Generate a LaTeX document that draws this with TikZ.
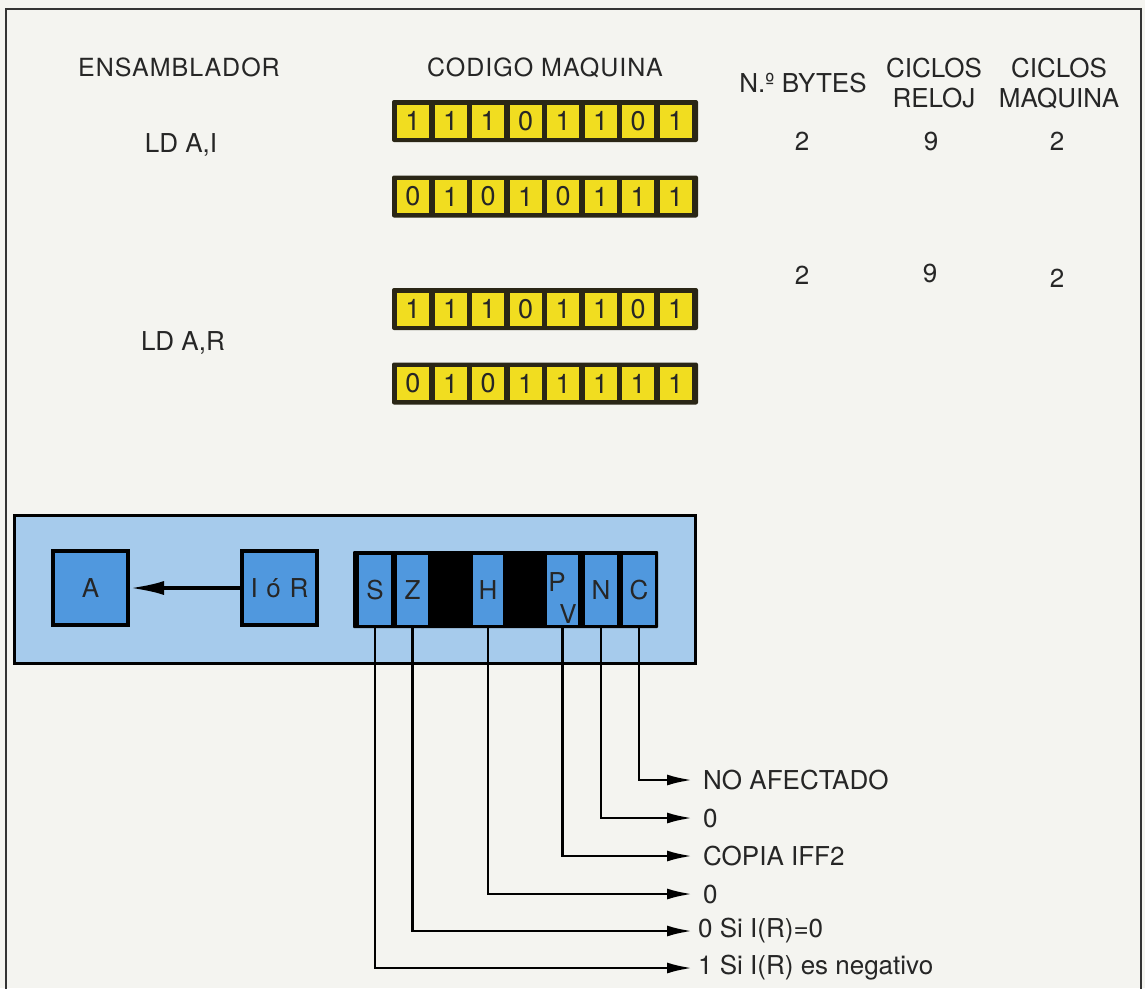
\documentclass[tikz,border=0pt]{standalone}
\usepackage{fontspec}
\setmainfont{TeX Gyre Heros}
\usetikzlibrary{arrows.meta,positioning}
\definecolor{paper}{RGB}{244,244,240}
\definecolor{bityel}{RGB}{241,221,32}
\definecolor{bitedge}{RGB}{42,38,22}
\definecolor{panelblue}{RGB}{166,203,236}
\definecolor{regblue}{RGB}{80,152,222}

\begin{document}
\begin{tikzpicture}[x=1pt, y=-1pt,
  every node/.style={font=\fontsize{26}{30}\selectfont, text=black!85},
  head/.style={font=\fontsize{25}{30}\selectfont\addfontfeature{LetterSpace=4}},
  bitcell/.style={fill=bityel, minimum width=32pt, minimum height=33pt, inner sep=0pt,
    font=\fontsize{27}{30}\selectfont},
  bytebox/.style={fill=bitedge, rounded corners=2pt, minimum width=306pt, minimum height=42pt, inner sep=0pt},
  reg/.style={draw=black, line width=4pt, fill=regblue, minimum width=75pt, minimum height=74pt, inner sep=0pt},
  flag/.style={fill=regblue, minimum height=70pt, inner sep=0pt},
  flagline/.style={line width=2.6pt, -{Latex[length=25pt,width=11pt]}},
  result/.style={anchor=west, inner sep=0pt}]
\useasboundingbox (0,0) rectangle (1145,988);
\fill[paper] (0,0) rectangle (1145,988);
\clip (0,0) rectangle (1145,988);
\draw[line width=2.5pt, black!80] (6,1000) -- (6,9) -- (1141,9) -- (1141,1000);
% ---- headings
\node[head] (ensam) at (179,67) {ENSAMBLADOR};
\node[head] (codigo) at (545,68) {CODIGO MAQUINA};
\node (bytes) at (803,83) {N.º BYTES};
\node[align=center] (reloj) at (934,83) {CICLOS\\RELOJ};
\node[align=center] (maq) at (1059,83) {CICLOS\\MAQUINA};
% ---- instructions
\node (ldai) at (181,145) {LD A,I};
\node (ldar) at (183,343) {LD A,R};
\node (b1) at (802,141) {2};
\node (c1) at (931,141) {9};
\node (m1) at (1057,141) {2};
\node (b2) at (802,275) {2};
\node (c2) at (930,273) {9};
\node (m2) at (1057,278) {2};
% ---- machine code bytes
\foreach \row/\yy/\bits in {1/121/{1,1,1,0,1,1,0,1}, 2/196.5/{0,1,0,1,0,1,1,1},
                            3/309/{1,1,1,0,1,1,0,1}, 4/383.5/{0,1,0,1,1,1,1,1}}{
  \node[bytebox] (byte\row) at (545,\yy) {};
  \foreach \b [count=\i] in \bits
    \node[bitcell] (bit\row\i) at (413+37.5*\i-37.5,\yy) {\b};
}
% ---- registers
\node[draw, line width=3pt, fill=panelblue, minimum width=681pt, minimum height=148pt,
  inner sep=0pt] (panel) at (355,589.5) {};
\node[reg] (A) at (90.5,588) {A};
\node[reg] (IR) at (279.5,588) {I\,\,ó\,\,R};
\draw[line width=3.5pt, -{Latex[length=34pt,width=14pt]}] (IR.west) -- (A.east);
\node[fill=black, rounded corners=1pt, minimum width=305pt, minimum height=77pt,
  inner sep=0pt] (flags) at (505.5,589.5) {};
\node[flag, minimum width=32pt] (S) at (375,590) {S};
\node[flag, minimum width=31pt] (Z) at (412.5,590) {Z};
\node[flag, minimum width=30pt] (H) at (488,590) {H};
\node[flag, minimum width=31pt] (PV) at (562.5,590) {};
\node (P) at (557,582) {P};
\node (V) at (568,614) {V};
\node[flag, minimum width=32pt] (N) at (601,590) {N};
\node[flag, minimum width=32pt] (C) at (639,590) {C};
% ---- what happens to each flag
\node[result] (rC) at (703,780) {NO AFECTADO};
\node[result] (rN) at (703,818) {0};
\node[result] (rPV) at (703,856) {COPIA IFF2};
\node[result] (rH) at (703,894) {0};
\node[result] (rZ) at (698,931) {0 Si I(R)=0};
\node[result] (rS) at (698,968) {1 Si I(R) es negativo};
\draw[flagline] (C.south) |- ([xshift=-11pt]rC.west);
\draw[flagline] (N.south) |- ([xshift=-11pt]rN.west);
\draw[flagline] (PV.south) |- ([xshift=-11pt]rPV.west);
\draw[flagline] (H.south) |- ([xshift=-11pt]rH.west);
\draw[flagline] (Z.south) |- ([xshift=-6pt]rZ.west);
\draw[flagline] (S.south) |- ([xshift=-6pt]rS.west);
\end{tikzpicture}
\end{document}
